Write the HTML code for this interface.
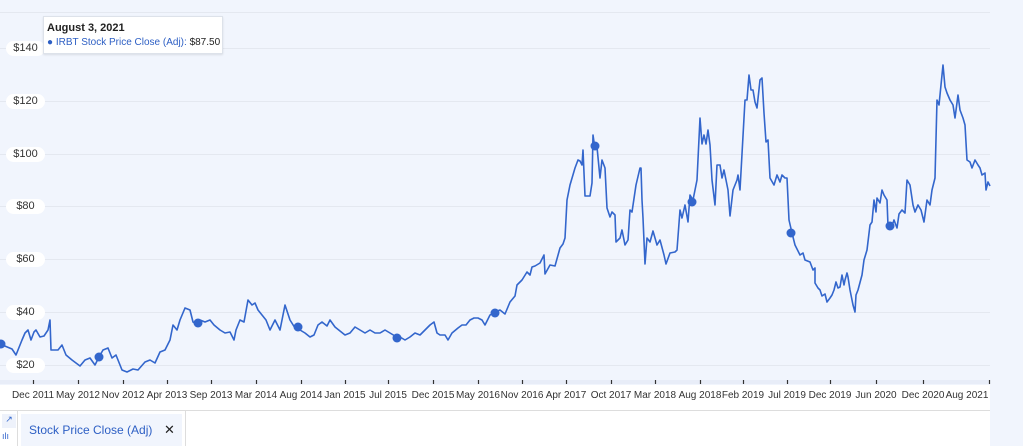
<!DOCTYPE html>
<html><head><style>
body{margin:0;width:1023px;height:446px;overflow:hidden;background:#f1f5fd;font-family:"Liberation Sans",sans-serif;position:relative}
.w{position:absolute;background:#fff}
.yl{position:absolute;left:6px;width:39px;height:15px;background:#fff;border-radius:8px;font-size:11px;color:#333;text-align:center;line-height:15px}
.xl{position:absolute;top:390px;font-size:10px;color:#333;width:80px;margin-left:-40px;text-align:center}
</style></head><body>
<div class="w" style="left:0;top:385px;width:990px;height:61px"></div>
<div style="position:absolute;left:0;top:410px;width:990px;height:1px;background:#ddd"></div>
<div style="position:absolute;left:17px;top:411px;width:1px;height:35px;background:#ddd"></div>
<div style="position:absolute;left:185px;top:411px;width:1px;height:35px;background:#ddd"></div>
<div style="position:absolute;left:2px;top:414px;width:14px;height:14px;background:#eef2fb;color:#3366cc;font-size:9px;text-align:center">↗</div>
<div style="position:absolute;left:2px;top:431px;font-size:9px;color:#3366cc">ılı</div>
<div style="position:absolute;left:21px;top:414px;width:161px;height:32px;background:#f1f5fd"></div>
<div style="position:absolute;left:29px;top:423px;font-size:12px;color:#2d5fc4">Stock Price Close (Adj)</div>
<div style="position:absolute;left:164px;top:422px;font-size:13px;color:#222">✕</div>
<svg width="1023" height="446" style="position:absolute;left:0;top:0">
<g stroke="#e4e8f0" stroke-width="1">
<line x1="0" y1="12.5" x2="990" y2="12.5"/><line x1="0" y1="48.5" x2="990" y2="48.5"/><line x1="0" y1="101.5" x2="990" y2="101.5"/><line x1="0" y1="154.5" x2="990" y2="154.5"/><line x1="0" y1="206.5" x2="990" y2="206.5"/><line x1="0" y1="259.5" x2="990" y2="259.5"/><line x1="0" y1="312.5" x2="990" y2="312.5"/><line x1="0" y1="365.5" x2="990" y2="365.5"/>
</g>
<rect x="0" y="380" width="990" height="4" fill="#e8edf8"/>
<g stroke="#333" stroke-width="1.2">
<line x1="33.5" y1="380" x2="33.5" y2="384"/><line x1="78.5" y1="380" x2="78.5" y2="384"/><line x1="123.5" y1="380" x2="123.5" y2="384"/><line x1="167.5" y1="380" x2="167.5" y2="384"/><line x1="211.5" y1="380" x2="211.5" y2="384"/><line x1="256.5" y1="380" x2="256.5" y2="384"/><line x1="301.5" y1="380" x2="301.5" y2="384"/><line x1="345.5" y1="380" x2="345.5" y2="384"/><line x1="388.5" y1="380" x2="388.5" y2="384"/><line x1="433.5" y1="380" x2="433.5" y2="384"/><line x1="478.5" y1="380" x2="478.5" y2="384"/><line x1="522.5" y1="380" x2="522.5" y2="384"/><line x1="566.5" y1="380" x2="566.5" y2="384"/><line x1="611.5" y1="380" x2="611.5" y2="384"/><line x1="655.5" y1="380" x2="655.5" y2="384"/><line x1="700.5" y1="380" x2="700.5" y2="384"/><line x1="743.5" y1="380" x2="743.5" y2="384"/><line x1="787.5" y1="380" x2="787.5" y2="384"/><line x1="830.5" y1="380" x2="830.5" y2="384"/><line x1="876.5" y1="380" x2="876.5" y2="384"/><line x1="923.5" y1="380" x2="923.5" y2="384"/><line x1="989.5" y1="380" x2="989.5" y2="384"/>
</g>
<polyline fill="none" stroke="#3366cc" stroke-width="1.6" stroke-linejoin="round" points="0,344 12,349 16,355 22,340 25,333 28,330 31,340 34,332 36,330 40,337 44,336 48,330 50,320 51,350 58,350 62,345 66,355 72,360 80,366 85,360 90,358 95,365 99,357 103,350 108,348 112,358 116,355 122,370 127,372 133,369 138,370 145,362 150,360 155,363 160,352 165,350 170,340 173,325 177,330 180,320 185,308 190,310 193,322 197,325 200,320 205,322 210,320 214,325 220,330 225,333 230,332 234,340 236,330 240,320 244,322 248,300 252,305 255,303 258,310 262,315 266,320 270,330 275,320 280,330 285,305 290,320 295,328 300,330 305,333 310,337 314,335 318,325 322,322 327,326 330,320 335,327 340,331 345,335 350,333 355,327 360,330 365,333 370,330 375,333 380,333 385,330 390,333 395,336 400,337 405,340 410,337 415,333 420,335 425,330 430,325 434,322 437,333 440,335 445,335 448,340 452,333 458,328 462,325 466,325 470,320 474,318 478,318 482,320 485,325 490,315 495,312 500,310 505,314 510,302 515,296 517,285 522,280 527,272 530,275 532,267 535,266 540,263 544,255 545,274 550,265 555,266 560,248 563,244 565,238 567,200 570,185 575,168 578,160 580,161 582,165 583,150 585,196 590,196 592,183 593,135 594,142 597,147 600,178 602,160 605,168 607,208 610,217 612,212 615,215 616,242 620,238 622,230 625,245 628,240 630,210 632,212 636,185 640,168 641,168 642,200 643,218 645,264 647,238 650,242 653,231 657,245 660,240 664,255 666,264 670,253 675,252 677,250 680,210 682,218 685,205 688,222 690,195 693,200 697,180 700,118 702,144 704,135 706,144 708,130 710,145 712,180 715,205 717,165 720,165 722,178 724,170 728,190 730,216 733,190 737,180 738,175 740,190 745,100 747,100 749,75 751,90 753,90 755,102 757,108 760,80 762,78 764,113 766,142 768,140 770,178 774,185 777,175 780,182 782,175 785,178 787,178 789,220 792,233 795,245 800,255 803,253 805,260 810,262 813,270 815,268 815,283 818,288 820,290 822,296 825,294 827,302 830,298 832,295 834,290 836,282 838,288 840,287 842,275 844,285 845,280 847,273 848,277 850,290 852,300 853,305 855,312 856,295 858,290 862,275 864,260 867,250 870,225 872,222 874,200 876,212 877,198 880,203 882,190 884,195 887,200 888,226 892,226 894,220 897,228 899,214 902,210 905,213 907,180 910,185 913,205 915,212 918,205 921,210 924,222 927,200 930,205 932,190 935,178 937,100 939,105 943,65 945,87 947,93 950,100 953,105 955,118 958,95 960,110 963,118 965,125 967,160 970,162 972,168 975,160 978,165 980,168 982,175 985,173 986,190 988,182 990,186"/>
<g fill="#3366cc"><circle cx="1" cy="344" r="4.5"/><circle cx="99" cy="357" r="4.5"/><circle cx="198" cy="323" r="4.5"/><circle cx="298" cy="327" r="4.5"/><circle cx="397" cy="338" r="4.5"/><circle cx="495" cy="313" r="4.5"/><circle cx="595" cy="146" r="4.5"/><circle cx="692" cy="202" r="4.5"/><circle cx="791" cy="233" r="4.5"/><circle cx="890" cy="226" r="4.5"/></g>
</svg>
<div class="yl" style="top:41px">$140</div>
<div class="yl" style="top:94px">$120</div>
<div class="yl" style="top:147px">$100</div>
<div class="yl" style="top:199px">$80</div>
<div class="yl" style="top:252px">$60</div>
<div class="yl" style="top:305px">$40</div>
<div class="yl" style="top:358px">$20</div>
<div class="xl" style="left:33px">Dec 2011</div><div class="xl" style="left:78px">May 2012</div><div class="xl" style="left:123px">Nov 2012</div><div class="xl" style="left:167px">Apr 2013</div><div class="xl" style="left:211px">Sep 2013</div><div class="xl" style="left:256px">Mar 2014</div><div class="xl" style="left:301px">Aug 2014</div><div class="xl" style="left:345px">Jan 2015</div><div class="xl" style="left:388px">Jul 2015</div><div class="xl" style="left:433px">Dec 2015</div><div class="xl" style="left:478px">May 2016</div><div class="xl" style="left:522px">Nov 2016</div><div class="xl" style="left:566px">Apr 2017</div><div class="xl" style="left:611px">Oct 2017</div><div class="xl" style="left:655px">Mar 2018</div><div class="xl" style="left:700px">Aug 2018</div><div class="xl" style="left:743px">Feb 2019</div><div class="xl" style="left:787px">Jul 2019</div><div class="xl" style="left:830px">Dec 2019</div><div class="xl" style="left:876px">Jun 2020</div><div class="xl" style="left:923px">Dec 2020</div><div class="xl" style="left:967px">Aug 2021</div>
<div style="position:absolute;left:43px;top:16px;width:178px;height:36px;background:#fff;border:1px solid #dde2ea;box-shadow:0 1px 2px rgba(0,0,0,.1)">
<div style="position:absolute;left:3px;top:5px;font-size:11px;font-weight:bold;color:#222">August 3, 2021</div>
<div style="position:absolute;left:3px;top:20px;font-size:10px;color:#2d5fc4;white-space:nowrap">● IRBT Stock Price Close (Adj): <span style="color:#222">$87.50</span></div>
</div>
</body></html>
